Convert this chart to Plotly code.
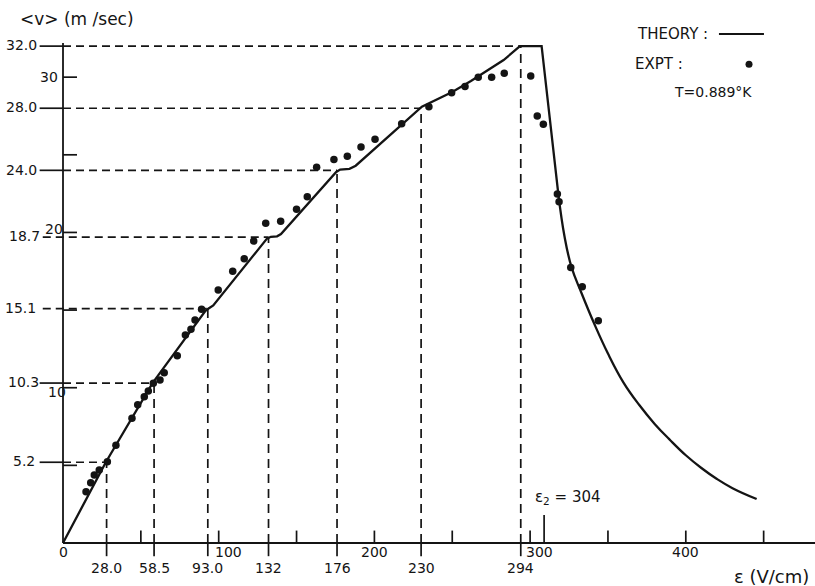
import plotly.graph_objects as go

# ---------------- data ----------------
theory_x = [0, 27.5, 57.5, 91.5, 93.5, 96.5, 131, 133.5, 137.5, 140, 175.5, 178, 184, 188,
            230.5, 240, 250, 262, 272, 283, 293.5, 307.4, 318.2]
theory_y = [0, 5.2, 10.3, 14.95, 15.1, 15.3, 19.6, 19.72, 19.75, 19.9, 23.9, 24.05, 24.1, 24.3,
            28.1, 28.55, 29.05, 29.75, 30.4, 31.1, 32.0, 32.0, 22.4]
# decaying branch of the theory curve (above the upper critical field)
decay_x = [318.2, 322, 326.5, 333, 341.5, 350, 360, 370, 380, 390, 400, 410, 420, 430, 445.5]
decay_y = [22.4, 19.8, 17.8, 16.1, 14.05, 12.2, 10.33, 8.9, 7.67, 6.62, 5.65, 4.83, 4.12, 3.53, 2.83]

expt_x = [14.8, 17.8, 20.1, 23.3, 28.5, 34.0, 44.3, 48.0, 52.2, 54.8, 58.0, 62.3, 65.0, 73.4,
          78.6, 82.2, 84.8, 89.0, 99.7, 109.0, 116.4, 122.5, 130.2, 139.8, 150.0, 156.9,
          162.9, 174.0, 182.6, 191.4, 200.4, 217.5, 235.0, 249.6, 258.2, 266.7, 275.3,
          283.4, 300.4, 304.6, 308.5, 317.5, 318.6, 326.1, 333.5, 343.8]
expt_y = [3.3, 3.88, 4.38, 4.7, 5.24, 6.3, 8.03, 8.9, 9.42, 9.79, 10.28, 10.5, 10.97, 12.06,
          13.4, 13.76, 14.36, 15.05, 16.3, 17.5, 18.3, 19.45, 20.6, 20.72, 21.5, 22.3,
          24.2, 24.7, 24.9, 25.5, 26.0, 27.0, 28.1, 29.0, 29.4, 30.0, 30.0,
          30.25, 30.07, 27.5, 26.96, 22.47, 21.98, 17.75, 16.5, 14.31]

# guide levels (field value, velocity value) and their labels
guide_x = [28.0, 58.5, 93.0, 132, 176, 230, 294]
guide_y = [5.2, 10.3, 15.1, 19.7, 24.0, 28.0, 32.0]
guide_x_labels = ["28.0", "58.5", "93.0", "132", "176", "230", "294"]
guide_y_labels = ["5.2", "10.3", "15.1", "18.7", "24.0", "28.0", "32.0"]

x_major_ticks = [100, 200, 300, 400]
x_minor_ticks = [50, 100, 150, 200, 250, 300, 350, 400, 450]
y_minor_ticks = [5, 10, 15, 20, 25, 30]
e2_value = 304
e2_pos = 309

INK = "#141414"
FONT = "DejaVu Sans"

fig = go.Figure()

def seg(xs, ys, width=1.6, dash="solid"):
    fig.add_trace(go.Scatter(x=xs, y=ys, mode="lines", hoverinfo="skip", showlegend=False,
                             line=dict(color=INK, width=width, dash=dash)))

# axes
seg([0, 483], [0, 0], 1.8)
seg([0, 0], [0, 32.2], 1.8)

# y ticks inside
for v in y_minor_ticks:
    seg([0, 9], [v, v], 1.7)
# x ticks upward
for v in x_minor_ticks:
    seg([v, v], [0, 0.8], 1.7)
seg([e2_pos, e2_pos], [0, 1.8], 1.7)

# guide lines
for gx, gy, lab in zip(guide_x, guide_y, guide_y_labels):
    if lab in ("15.1", "18.7"):
        seg([-13, gx], [gy, gy], 1.7, "8px,5px")
    else:
        seg([-15, 0], [gy, gy], 1.7)
        seg([0, gx], [gy, gy], 1.7, "8px,5px")
    seg([gx, gx], [0, gy], 1.7, "9px,6px")
    seg([gx, gx], [-0.85, 0], 1.7)

# theory
fig.add_trace(go.Scatter(x=theory_x, y=theory_y, mode="lines", hoverinfo="skip",
                         showlegend=False, line=dict(color=INK, width=2.3)))
fig.add_trace(go.Scatter(x=decay_x, y=decay_y, mode="lines", hoverinfo="skip",
                         showlegend=False,
                         line=dict(color=INK, width=2.3, shape="spline", smoothing=1.2)))
# experiment
fig.add_trace(go.Scatter(x=expt_x, y=expt_y, mode="markers", hoverinfo="skip",
                         showlegend=False, marker=dict(color=INK, size=7.5)))

# legend
seg([421.3, 450.2], [32.78, 32.78], 1.8)
fig.add_trace(go.Scatter(x=[440.6], y=[30.84], mode="markers", hoverinfo="skip",
                         showlegend=False, marker=dict(color=INK, size=7)))

ann = []
def txt(x, y, s, size=14, xa="center", ya="middle"):
    ann.append(dict(x=x, y=y, text=s, showarrow=False, xanchor=xa, yanchor=ya,
                    font=dict(family=FONT, size=size, color=INK)))

txt(367.4, 32.78, "THEORY :", 15, "left")
txt(366.1, 30.84, "EXPT :", 15, "left")
txt(391.1, 29.04, "T=0.889°K", 14, "left")

txt(-29, 33.74, "<v> (m /sec)", 17, "left")
txt(455, -2.19, "ε (V/cm)", 18)
txt(324.3, 2.96, "ε<sub>2</sub> = " + str(e2_value), 15)

# x labels
txt(0, -0.58, "0", 14)
major_pos = {100: 106, 200: 200, 300: 306, 400: 400}
for v in x_major_ticks:
    txt(major_pos[v], -0.58, str(v), 14)
for gx, lab in zip(guide_x, guide_x_labels):
    txt(gx, -1.61, lab, 14)

# y labels
ylab_pos = {"32.0": -15.5, "28.0": -15.5, "24.0": -15.5, "18.7": -13.6,
            "15.1": -16.0, "10.3": -14.1, "5.2": -16.7}
for gy, lab in zip(guide_y, guide_y_labels):
    txt(ylab_pos[lab], gy + 0.05, lab, 14, "right")
txt(-1.9, 30, "30", 14, "right")
txt(-12.8, 20.25, "20", 14, "left")
txt(-10.6, 9.72, "10", 14, "left")

fig.update_layout(
    width=815, height=586,
    margin=dict(l=0, r=0, t=0, b=0),
    paper_bgcolor="white", plot_bgcolor="white",
    xaxis=dict(range=[-40.46, 482.98], visible=False, fixedrange=True),
    yaxis=dict(range=[-2.77, 34.97], visible=False, fixedrange=True),
    annotations=ann,
    showlegend=False,
)

fig.write_html("out.html")
